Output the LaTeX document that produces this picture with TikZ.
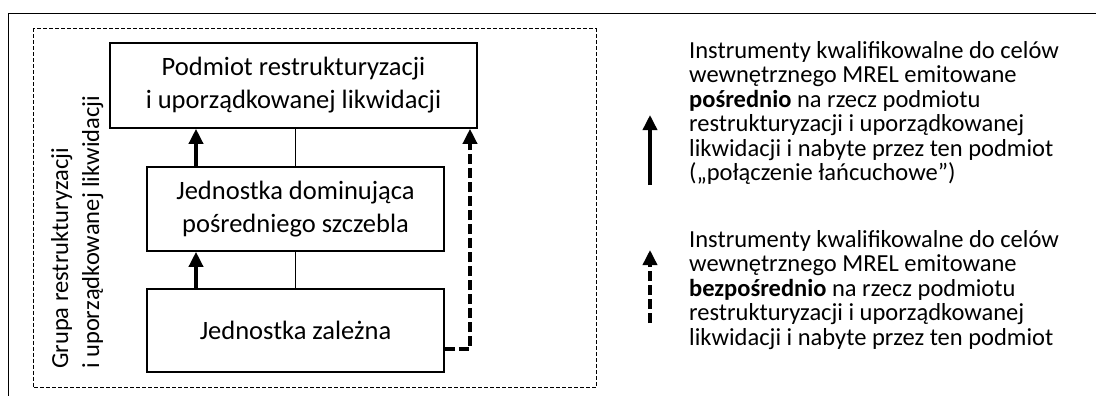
\documentclass[tikz,border=0pt]{standalone}
\usepackage{fontspec}
\setmainfont{Carlito}
\usetikzlibrary{arrows.meta}
\begin{document}
\begin{tikzpicture}[x=1pt,y=-1pt,
  box/.style={draw,line width=1.6pt,align=center,inner sep=0pt,font=\fontsize{26.5}{33}\selectfont},
  thinline/.style={line width=1pt},
  thickarrow/.style={line width=3.5pt,-{Triangle[width=14pt,length=15pt]}},
  dasharrow/.style={thickarrow,dash pattern=on 10pt off 4pt},
  legendtext/.style={align=left,inner sep=0pt,anchor=base west,font=\fontsize{24.5}{24.5}\selectfont},
  grouplabel/.style={rotate=90,anchor=base west,align=left,inner sep=0pt,font=\fontsize{24.5}{31}\selectfont},
  frame/.style={line width=1.5pt},
  groupframe/.style={line width=1pt,dash pattern=on 4pt off 2pt}
]
\useasboundingbox (0,0) rectangle (1096,396);
% outer frame (only top and left visible)
\coordinate (fbl) at (8.5,396);
\coordinate (ftl) at (8.5,13.5);
\coordinate (ftr) at (1096,13.5);
\draw[frame] (fbl) -- (ftl) -- (ftr);
% dashed group frame
\coordinate (g1) at (33,28.5);
\coordinate (g2) at (596,387.5);
\draw[groupframe] (g1) rectangle (g2);
% group label (base anchor = baseline of last line)
\node[grouplabel] (grp) at (99,369) {Grupa restrukturyzacji\\i uporządkowanej likwidacji};
% boxes
\node[box,minimum width=367pt,minimum height=85pt] (top) at (293.5,85.5) {Podmiot restrukturyzacji\\i uporządkowanej likwidacji};
\node[box,minimum width=297pt,minimum height=84pt] (mid) at (295.5,209) {Jednostka dominująca\\pośredniego szczebla};
\node[box,minimum width=297pt,minimum height=83pt] (bot) at (295.5,330.5) {Jednostka zależna};
% connectors
\coordinate (ax) at (196,0);
\draw[thickarrow] (ax |- mid.north) -- (ax |- top.south);
\draw[thickarrow] (ax |- bot.north) -- (ax |- mid.south);
\draw[thinline] (mid.north) -- (mid.north |- top.south);
\draw[thinline] (bot.north) -- (bot.north |- mid.south);
\coordinate (dx) at (470,349);
\draw[dasharrow] (bot.east |- dx) -- (dx) -- (dx |- top.south);
% legend
\coordinate (la1) at (650,185);
\coordinate (la2) at (650,115);
\draw[thickarrow] (la1) -- (la2);
\coordinate (lb1) at (650,323);
\coordinate (lb2) at (650,250);
\draw[dasharrow] (lb1) -- (lb2);
% legend texts (base anchor = baseline of last line)
\node[legendtext] (t1) at (689,180.5) {Instrumenty kwalifikowalne do celów\\wewnętrznego MREL emitowane\\\textbf{pośrednio} na rzecz podmiotu\\restrukturyzacji i uporządkowanej\\likwidacji i nabyte przez ten podmiot\\(„połączenie łańcuchowe”)};
\node[legendtext] (t2) at (689,345) {Instrumenty kwalifikowalne do celów\\wewnętrznego MREL emitowane\\\textbf{bezpośrednio} na rzecz podmiotu\\restrukturyzacji i uporządkowanej\\likwidacji i nabyte przez ten podmiot};
\end{tikzpicture}
\end{document}
